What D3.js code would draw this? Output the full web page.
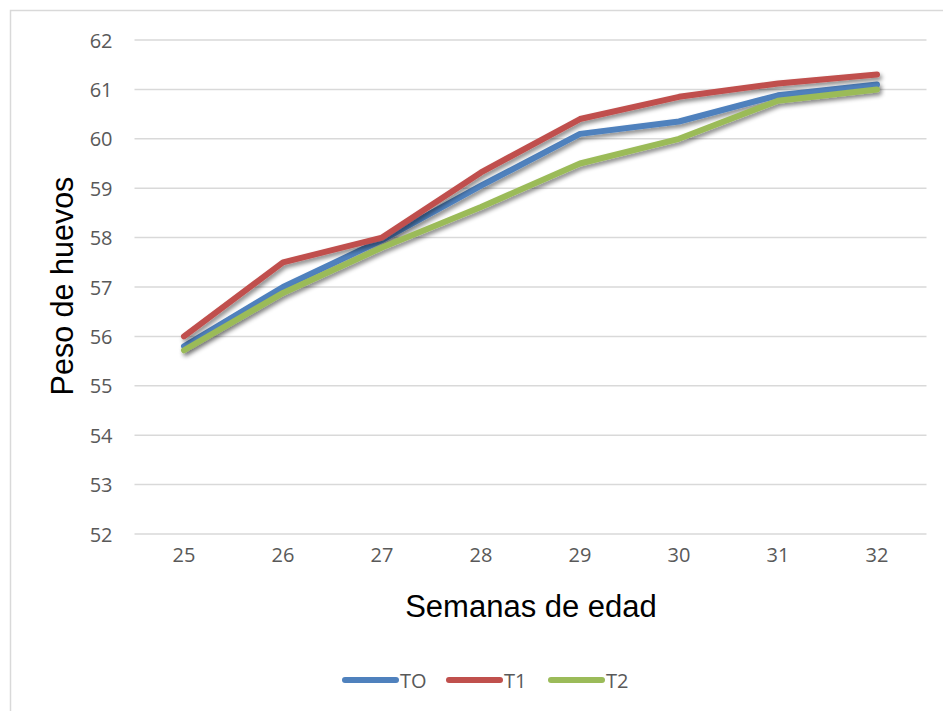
<!DOCTYPE html>
<html><head><meta charset="utf-8">
<script src="https://cdn.jsdelivr.net/npm/d3@7/dist/d3.min.js"></script>
<style>body{margin:0;background:#fff}svg{display:block}</style>
</head><body>
<svg id="chart" width="943" height="711"></svg>
<script>
const weeks = ["25","26","27","28","29","30","31","32"];
const T0 = [55.8, 57.0, 57.95, 59.05, 60.1, 60.35, 60.88, 61.1];
const T1 = [56.0, 57.5, 58.0, 59.32, 60.4, 60.85, 61.12, 61.3];
const T2 = [55.72, 56.88, 57.8, 58.62, 59.5, 60.0, 60.77, 61.0];
const seriesNames = ["TO","T1","T2"];
const seriesColors = ["#4f81bd","#c0504d","#9bbb59"];
const yTicks = [52,53,54,55,56,57,58,59,60,61,62];

const svg = d3.select("#chart");
const defs = svg.append("defs");
const f = defs.append("filter").attr("id","sh").attr("x","-10%").attr("y","-10%").attr("width","120%").attr("height","130%");
f.append("feDropShadow").attr("dx",2).attr("dy",3).attr("stdDeviation",2.2).attr("flood-color","#000").attr("flood-opacity",0.45);

svg.append("rect").attr("x",10.5).attr("y",10.5).attr("width",1000).attr("height",1000)
  .attr("fill","#fff").attr("stroke","#d9d9d9").attr("stroke-width",1.5);

const x = d3.scaleBand().domain(weeks).range([134.5, 926.5]);
const y = d3.scaleLinear().domain([52,62]).range([534, 40]);

const g = svg.append("g");
g.selectAll("line.grid").data(yTicks).join("line").attr("class","grid")
  .attr("x1",134.5).attr("x2",926.5).attr("y1",d=>y(d)).attr("y2",d=>y(d))
  .attr("stroke","#d9d9d9").attr("stroke-width",1.5);

const tickFont = "20px";
const yAxis = g.append("g").attr("transform","translate(134.5,0)")
  .call(d3.axisLeft(y).tickValues(yTicks).tickSize(0).tickPadding(22).tickFormat(d3.format("d")));
yAxis.select(".domain").remove();
yAxis.selectAll("text").attr("font-family","'Open Sans', sans-serif").attr("font-size",tickFont).attr("fill","#595959").attr("dy","0.35em");

const xAxis = g.append("g").attr("transform","translate(0,534)")
  .call(d3.axisBottom(x).tickSize(0).tickPadding(21));
xAxis.select(".domain").remove();
xAxis.selectAll("text").attr("font-family","'Open Sans', sans-serif").attr("font-size",tickFont).attr("fill","#595959").attr("dy","0.35em");

const data = [T0, T1, T2];
const line = d3.line().x((d,i)=>x(weeks[i]) + x.bandwidth()/2).y(d=>y(d));
g.selectAll("path.series").data(data).join("path").attr("class","series")
  .attr("d", line).attr("fill","none").attr("stroke",(d,i)=>seriesColors[i])
  .attr("stroke-width",6).attr("stroke-linecap","round").attr("stroke-linejoin","round")
  .attr("filter","url(#sh)");

svg.append("text").attr("transform","translate(73,286) rotate(-90)").attr("text-anchor","middle")
  .attr("font-family","'Liberation Sans', Arial, sans-serif").attr("font-size","30.5px").attr("fill","#000")
  .text("Peso de huevos");
svg.append("text").attr("x",531).attr("y",617).attr("text-anchor","middle")
  .attr("font-family","'Liberation Sans', Arial, sans-serif").attr("font-size","31px").attr("fill","#000")
  .text("Semanas de edad");

const legX = [342, 446, 548];
const leg = svg.append("g");
seriesNames.forEach((n,i)=>{
  leg.append("line").attr("x1",legX[i]+3).attr("x2",legX[i]+54).attr("y1",680).attr("y2",680)
    .attr("stroke",seriesColors[i]).attr("stroke-width",6).attr("stroke-linecap","round");
  leg.append("text").attr("x",legX[i]+58).attr("y",681).attr("dy","0.35em")
    .attr("font-family","'Open Sans', sans-serif").attr("font-size",tickFont).attr("fill","#595959").text(n);
});
</script>
</body></html>
